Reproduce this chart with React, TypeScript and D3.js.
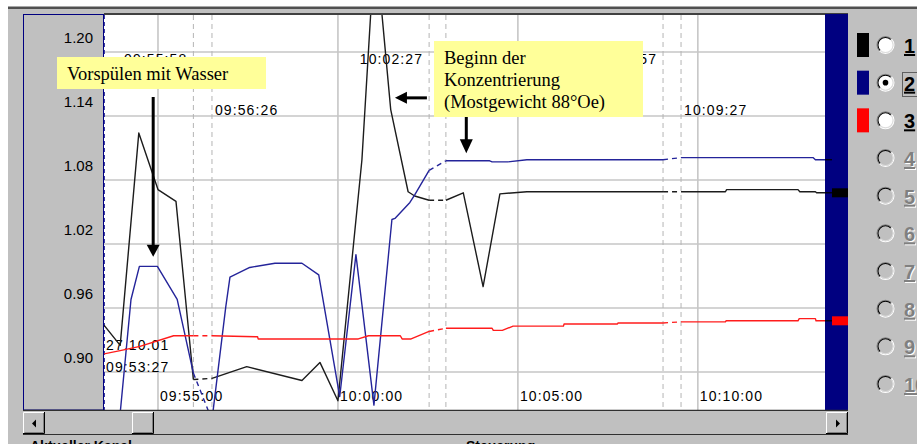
import React from "react";
import * as d3 from "d3";

const parse = d3.timeParse("%H:%M:%S");

// ---------- data ----------
const yTicks = [0.9, 0.96, 1.02, 1.08, 1.14, 1.2];
const xTicks = ["09:55:00", "10:00:00", "10:05:00", "10:10:00"];
const viewWindow = ["09:53:30", "10:13:32"];
const gapTimes = [
  ["09:55:59", "09:56:30"],
  ["10:02:32", "10:03:00"],
  ["10:09:02", "10:09:32"],
];
const gapLabels = [
  ["09:55:58", "09:56:26"],
  ["10:02:27", "10:02:57"],
  ["10:08:57", "10:09:27"],
];
const startLabels = ["27.10.01", "09:53:27"];

const channel1: [string, number][] = [
  ["09:53:30", 0.944], ["09:53:57", 0.925], ["09:54:28", 1.124], ["09:55:00", 1.071],
  ["09:55:30", 1.06], ["09:55:59", 0.893], ["09:56:30", 0.894], ["09:56:35", 0.895],
  ["09:57:28", 0.905], ["09:59:00", 0.892], ["09:59:30", 0.909], ["10:00:00", 0.873],
  ["10:00:40", 1.099], ["10:01:02", 1.305], ["10:01:28", 1.146], ["10:01:57", 1.069],
  ["10:02:08", 1.065], ["10:02:32", 1.061], ["10:03:00", 1.061], ["10:03:29", 1.068],
  ["10:04:02", 0.98], ["10:04:30", 1.067], ["10:05:15", 1.069], ["10:09:02", 1.069],
  ["10:09:32", 1.069], ["10:10:46", 1.069], ["10:10:48", 1.071], ["10:12:47", 1.071],
  ["10:12:50", 1.069], ["10:13:16", 1.069], ["10:13:18", 1.068], ["10:13:44", 1.068],
];
const channel2: [string, number][] = [
  ["09:53:30", 0.832], ["09:53:52", 0.832], ["09:54:15", 0.968], ["09:54:29", 0.999],
  ["09:54:59", 0.999], ["09:55:32", 0.968], ["09:55:59", 0.899], ["09:56:30", 0.855],
  ["09:56:53", 0.961], ["09:57:00", 0.989], ["09:57:33", 0.998], ["09:58:15", 1.002],
  ["09:59:00", 1.002], ["09:59:28", 0.991], ["10:00:03", 0.877], ["10:00:30", 1.01],
  ["10:01:00", 0.869], ["10:01:30", 1.043], ["10:01:35", 1.044], ["10:02:00", 1.059],
  ["10:02:08", 1.066], ["10:02:32", 1.089], ["10:03:00", 1.098], ["10:04:13", 1.098],
  ["10:04:17", 1.097], ["10:04:43", 1.097], ["10:05:15", 1.099], ["10:09:02", 1.099],
  ["10:09:32", 1.101], ["10:13:12", 1.101], ["10:13:16", 1.099], ["10:13:44", 1.099],
];
const channel3: [string, number][] = [
  ["09:53:30", 0.917], ["09:53:57", 0.92], ["09:54:30", 0.924], ["09:55:26", 0.934],
  ["09:55:59", 0.934], ["09:56:30", 0.934], ["09:57:46", 0.933], ["09:57:47", 0.931],
  ["10:00:34", 0.931], ["10:00:51", 0.934], ["10:01:44", 0.934], ["10:01:47", 0.931],
  ["10:02:02", 0.931], ["10:02:32", 0.938], ["10:03:00", 0.941], ["10:04:17", 0.941],
  ["10:04:19", 0.939], ["10:04:34", 0.939], ["10:04:52", 0.943], ["10:06:16", 0.943],
  ["10:06:17", 0.945], ["10:07:46", 0.945], ["10:07:47", 0.946], ["10:09:02", 0.946],
  ["10:09:32", 0.947], ["10:10:46", 0.947], ["10:10:47", 0.948], ["10:12:47", 0.948],
  ["10:12:49", 0.95], ["10:13:16", 0.95], ["10:13:17", 0.948], ["10:13:44", 0.948],
];
const channelLineColors = ["#1c1c1c", "#24249a", "#ff1c1c"];
const channelColors = ["#000000", "#000080", "#ff0000"];
const legendLabels = ["1", "2", "3", "4", "5", "6", "7", "8", "9", "10"];
const selectedChannel = 2;
const noteWash = ["Vorspülen mit Wasser"];
const noteStart = ["Beginn der", "Konzentrierung", "(Mostgewicht 88°Oe)"];
const arrowTargets: [string, number][] = [
  ["09:54:52", 1.008],
  ["10:01:35", 1.157],
  ["10:03:34", 1.105],
];
const bottomLabels = ["Aktueller Kanal", "Steuerung"];

// ---------- layout ----------
const W = 917, H = 444;
const L = 104, R = 825, T = 15, B = 410;
const BAR_W = 23;
const SANS = "'Liberation Sans', Arial, sans-serif";
const SERIF = "'Liberation Serif', 'Times New Roman', serif";
const GRAY = "#c0c0c0";

type Pt = { t: Date; v: number; key: string };

function splitSeries(data: [string, number][]) {
  const pts: Pt[] = data.map(([t, v]) => ({ t: parse(t) as Date, v, key: t }));
  const starts = new Set(gapTimes.map((g) => g[0]));
  const solid: Pt[][] = [];
  const dashed: Pt[][] = [];
  let run: Pt[] = [pts[0]];
  for (let i = 0; i < pts.length - 1; i++) {
    if (starts.has(pts[i].key)) {
      if (run.length > 1) solid.push(run);
      dashed.push([pts[i], pts[i + 1]]);
      run = [pts[i + 1]];
    } else run.push(pts[i + 1]);
  }
  if (run.length > 1) solid.push(run);
  return { solid, dashed, last: pts[pts.length - 1] };
}

function Bevel({ x, y, w, h }: { x: number; y: number; w: number; h: number }) {
  return (
    <g>
      <rect x={x} y={y} width={w} height={h} fill={GRAY} />
      <path d={`M${x + 0.5},${y + h - 1}V${y + 0.5}H${x + w - 1}`} stroke="#ffffff" fill="none" />
      <path d={`M${x + 1.5},${y + h - 1.5}H${x + w - 1.5}V${y + 1}`} stroke="#808080" fill="none" />
      <path d={`M${x},${y + h - 0.5}H${x + w - 0.5}V${y}`} stroke="#000000" fill="none" />
    </g>
  );
}

export default function App() {
  const x = d3.scaleTime().domain(viewWindow.map((s) => parse(s) as Date)).range([L, R]);
  const y = d3.scaleLinear().domain([0.9, 1.2]).range([372, 52]);
  const line = d3.line<Pt>().x((d) => x(d.t)).y((d) => y(d.v));
  const series = [channel1, channel2, channel3].map(splitSeries);
  const arc = d3.arc<any>();
  const tl = { startAngle: (-3 * Math.PI) / 4, endAngle: Math.PI / 4 };
  const br = { startAngle: Math.PI / 4, endAngle: (5 * Math.PI) / 4 };
  const legendY = (i: number) => 45 + i * 37.67;
  const legendCx = 885.5;
  const [a1, a2, a3] = arrowTargets.map(([t, v]) => [x(parse(t) as Date), y(v)]);

  return (
    <svg
      width={W}
      height={H}
      style={{ position: "absolute", left: 0, top: 0, display: "block" }}
      xmlns="http://www.w3.org/2000/svg"
    >
      <defs>
        <clipPath id="plotClip">
          <rect x={L} y={T} width={R - L} height={B - T} />
        </clipPath>
      </defs>
      {/* window background */}
      <rect x={0} y={0} width={W} height={H} fill="#ffffff" />
      <rect x={8} y={7} width={W - 8} height={H - 7} fill={GRAY} />
      <rect x={8} y={6.5} width={W - 8} height={2.5} fill="#505050" />

      {/* left axis panel */}
      <rect x={23.5} y={14.5} width={80} height={B - 14.5} fill={GRAY} stroke="#000080" strokeWidth={1} />
      {/* plot area */}
      <rect x={L} y={T} width={R - L} height={B - T} fill="#ffffff" />
      <line x1={L} x2={R + BAR_W} y1={14} y2={14} stroke="#404040" strokeWidth={2} />

      {/* gridlines */}
      {yTicks.map((v) => (
        <line key={"gy" + v} x1={L} x2={R} y1={y(v)} y2={y(v)} stroke="#c6c6c6" strokeWidth={1.6} />
      ))}
      {xTicks.map((t) => {
        const px = x(parse(t) as Date);
        return <line key={"gx" + t} x1={px} x2={px} y1={T} y2={B} stroke="#c6c6c6" strokeWidth={1.6} />;
      })}
      {gapTimes.flat().map((t) => {
        const px = x(parse(t) as Date);
        return (
          <line key={"gd" + t} x1={px} x2={px} y1={T} y2={B} stroke="#b4b4b4" strokeWidth={1} strokeDasharray="5 4" />
        );
      })}
      <line x1={L + 0.5} x2={L + 0.5} y1={T} y2={B} stroke="#3a3aa0" strokeWidth={1} strokeDasharray="4 3" />

      {/* y labels */}
      {yTicks.map((v) => (
        <text key={"yl" + v} x={93} y={y(v) - 9} textAnchor="end" fontFamily={SANS} fontSize={15} fill="#000">
          {v.toFixed(2)}
        </text>
      ))}
      {/* x labels */}
      {xTicks.map((t) => (
        <text key={"xl" + t} x={x(parse(t) as Date) + 2} y={401} fontFamily={SANS} fontSize={14} letterSpacing={1.1} fill="#000">
          {t}
        </text>
      ))}
      {/* gap labels */}
      {gapTimes.map((g, i) => (
        <g key={"gl" + i}>
          <text x={x(parse(g[0]) as Date) - 6} y={64} textAnchor="end" fontFamily={SANS} fontSize={14} letterSpacing={1.1} fill="#000">
            {gapLabels[i][0]}
          </text>
          <text x={x(parse(g[1]) as Date) + 3} y={115} fontFamily={SANS} fontSize={14} letterSpacing={1.1} fill="#000">
            {gapLabels[i][1]}
          </text>
        </g>
      ))}
      <text x={L + 2} y={350} fontFamily={SANS} fontSize={14} letterSpacing={1.1} fill="#000">
        {startLabels[0]}
      </text>
      <text x={L + 2} y={372} fontFamily={SANS} fontSize={14} letterSpacing={1.1} fill="#000">
        {startLabels[1]}
      </text>

      {/* series */}
      <g clipPath="url(#plotClip)">
        {series.map((s, i) => (
          <g key={"s" + i}>
            {s.solid.map((run, j) => (
              <path key={j} d={line(run) || ""} fill="none" stroke={channelLineColors[i]} strokeWidth={1.4} strokeLinejoin="round" />
            ))}
            {s.dashed.map((run, j) => (
              <path key={"d" + j} d={line(run) || ""} fill="none" stroke={channelLineColors[i]} strokeWidth={1.4} strokeDasharray="5 4" />
            ))}
          </g>
        ))}
      </g>

      {/* current-value bar */}
      <rect x={R} y={T - 1} width={BAR_W} height={B - T + 1} fill="#000080" />
      {series.map((s, i) => {
        const py = y(s.last.v);
        return (
          <g key={"m" + i}>
            <line x1={R} x2={R + 7} y1={py} y2={py} stroke="#000" strokeWidth={1.2} />
            <rect x={R + 7} y={py - 4.5} width={BAR_W - 7} height={9} fill={channelColors[i]} />
          </g>
        );
      })}
      <line x1={23} x2={R + BAR_W} y1={B + 0.5} y2={B + 0.5} stroke="#303030" strokeWidth={1.5} />

      {/* annotations */}
      <rect x={57} y={57} width={209} height={32} fill="#ffff99" />
      <text x={67} y={80} fontFamily={SERIF} fontSize={18.5} fill="#000">
        {noteWash[0]}
      </text>
      <rect x={434} y={41} width={209} height={76} fill="#ffff99" />
      {noteStart.map((t, i) => (
        <text key={"ns" + i} x={444} y={64 + i * 22} fontFamily={SERIF} fontSize={18.5} fill="#000">
          {t}
        </text>
      ))}
      {/* arrow 1: down */}
      <line x1={a1[0]} x2={a1[0]} y1={97} y2={a1[1] - 10} stroke="#000" strokeWidth={3} />
      <path d={`M${a1[0] - 6.5},${a1[1] - 12}L${a1[0] + 6.5},${a1[1] - 12}L${a1[0]},${a1[1]}Z`} fill="#000" />
      {/* arrow 2: left */}
      <line x1={a2[0] + 32} x2={a2[0] + 10} y1={a2[1]} y2={a2[1]} stroke="#000" strokeWidth={3} />
      <path d={`M${a2[0] + 12},${a2[1] - 6}L${a2[0] + 12},${a2[1] + 6}L${a2[0]},${a2[1]}Z`} fill="#000" />
      {/* arrow 3: down */}
      <line x1={a3[0]} x2={a3[0]} y1={117} y2={a3[1] - 10} stroke="#000" strokeWidth={3} />
      <path d={`M${a3[0] - 6.5},${a3[1] - 14}L${a3[0] + 6.5},${a3[1] - 14}L${a3[0]},${a3[1]}Z`} fill="#000" />

      {/* scrollbar */}
      <rect x={23} y={411} width={R + BAR_W - 23} height={24} fill={GRAY} />
      <line x1={23} x2={R + BAR_W} y1={434.5} y2={434.5} stroke="#303030" strokeWidth={1} />
      <Bevel x={23} y={412} w={22} h={22} />
      <path d="M32,423.5L36,419.5L36,427.5Z" fill="#000" />
      <Bevel x={132} y={412} w={22} h={22} />
      <Bevel x={826} y={412} w={22} h={22} />
      <path d="M840,423.5L836,419.5L836,427.5Z" fill="#000" />

      {/* legend / channel selector */}
      {legendLabels.map((lab, i) => {
        const cy = legendY(i);
        const enabled = i < channelColors.length;
        return (
          <g key={"lg" + i} transform={`translate(${legendCx},${cy})`}>
            <circle r={8} fill={enabled ? "#ffffff" : GRAY} />
            <path d={arc({ innerRadius: 8, outerRadius: 9, ...tl }) || ""} fill="#808080" />
            <path d={arc({ innerRadius: 8, outerRadius: 9, ...br }) || ""} fill="#ffffff" />
            <path d={arc({ innerRadius: 7, outerRadius: 8, ...tl }) || ""} fill="#000000" />
            <path d={arc({ innerRadius: 7, outerRadius: 8, ...br }) || ""} fill="#dcdcdc" />
            {i + 1 === selectedChannel && <circle r={2.8} fill="#000" />}
          </g>
        );
      })}
      {channelColors.map((c, i) => (
        <rect key={"sw" + i} x={857} y={legendY(i) - 12} width={12} height={24} fill={c} />
      ))}
      {legendLabels.map((lab, i) => {
        const cy = legendY(i);
        const enabled = i < channelColors.length;
        return enabled ? (
          <text key={"ln" + i} x={904} y={cy + 8} fontFamily={SANS} fontSize={20} fontWeight="bold" textDecoration="underline" fill="#000">
            {lab}
          </text>
        ) : (
          <g key={"ln" + i}>
            <text x={905} y={cy + 9} fontFamily={SANS} fontSize={20} fontWeight="bold" textDecoration="underline" fill="#ffffff">
              {lab}
            </text>
            <text x={904} y={cy + 8} fontFamily={SANS} fontSize={20} fontWeight="bold" textDecoration="underline" fill="#808080">
              {lab}
            </text>
          </g>
        );
      })}
      <rect x={902.5} y={72.5} width={16} height={24} fill="none" stroke="#000" strokeWidth={1} strokeDasharray="1 1" />

      {/* bottom captions */}
      <text x={30} y={451} fontFamily={SANS} fontSize={14} fontWeight="bold" fill="#000">
        {bottomLabels[0]}
      </text>
      <text x={466} y={451} fontFamily={SANS} fontSize={14} fontWeight="bold" fill="#000">
        {bottomLabels[1]}
      </text>
    </svg>
  );
}
